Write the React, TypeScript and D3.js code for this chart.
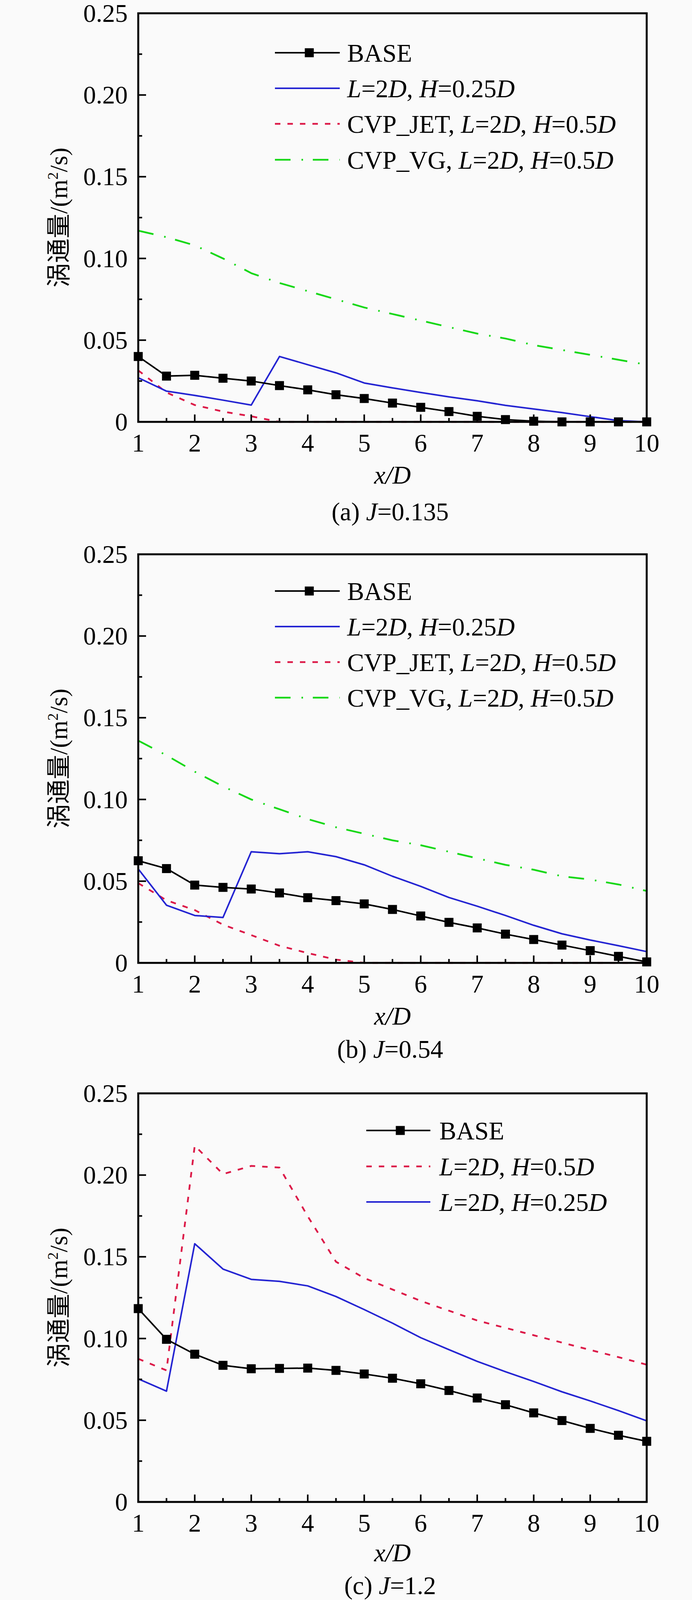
import React from "react";
import * as d3 from "d3";

// ---------- data ----------
const xPositions = [1, 1.5, 2, 2.5, 3, 3.5, 4, 4.5, 5, 5.5, 6, 6.5, 7, 7.5, 8, 8.5, 9, 9.5, 10];
const xTickLabels = ["1", "2", "3", "4", "5", "6", "7", "8", "9", "10"];
const yTickLabels = ["0", "0.05", "0.10", "0.15", "0.20", "0.25"];

// (a) J=0.135
const aBase = [0.040, 0.028, 0.0285, 0.0267, 0.025, 0.0222, 0.0196, 0.0166, 0.0143, 0.0115, 0.0089, 0.0063, 0.0034, 0.0014, 0.0004, 0, 0, 0, 0];
const aL2H025 = [0.027, 0.0188, 0.0162, 0.0133, 0.0103, 0.040, 0.035, 0.030, 0.0238, 0.0208, 0.018, 0.0153, 0.0129, 0.0101, 0.0079, 0.0057, 0.0032, 0.0008, 0];
const aJet = [0.0315, 0.018, 0.0103, 0.0063, 0.0034, 0, 0, 0, 0, 0, 0, 0, 0, 0, 0, 0, 0, 0, 0];
const aVG = [0.117, 0.113, 0.108, 0.100, 0.091, 0.085, 0.080, 0.075, 0.070, 0.066, 0.062, 0.058, 0.054, 0.051, 0.047, 0.044, 0.041, 0.038, 0.035];

// (b) J=0.54
const bBase = [0.0625, 0.0577, 0.0476, 0.0462, 0.0452, 0.0428, 0.0399, 0.0381, 0.0361, 0.0327, 0.0287, 0.0248, 0.0214, 0.0176, 0.0143, 0.0109, 0.0075, 0.004, 0.0006];
const bL2H025 = [0.0575, 0.0353, 0.029, 0.0278, 0.068, 0.0668, 0.068, 0.065, 0.060, 0.053, 0.0468, 0.040, 0.0347, 0.029, 0.023, 0.0178, 0.014, 0.0105, 0.0069];
const bJet = [0.0488, 0.0383, 0.0323, 0.0234, 0.017, 0.0105, 0.006, 0.002, 0, 0, 0, 0, 0, 0, 0, 0, 0, 0, 0];
const bVG = [0.136, 0.127, 0.117, 0.108, 0.100, 0.094, 0.088, 0.083, 0.079, 0.075, 0.072, 0.068, 0.064, 0.060, 0.057, 0.053, 0.051, 0.048, 0.044];

// (c) J=1.2
const cBase = [0.1183, 0.0995, 0.0904, 0.0836, 0.0815, 0.0817, 0.0819, 0.0805, 0.0783, 0.0757, 0.0723, 0.0682, 0.0636, 0.0595, 0.0545, 0.0498, 0.045, 0.0408, 0.0371];
const cL2H05 = [0.0876, 0.0805, 0.218, 0.2006, 0.2056, 0.2046, 0.1748, 0.147, 0.137, 0.130, 0.123, 0.117, 0.111, 0.1065, 0.102, 0.0975, 0.093, 0.0886, 0.084];
const cL2H025 = [0.0753, 0.0678, 0.158, 0.1425, 0.1362, 0.135, 0.1322, 0.1257, 0.1177, 0.1094, 0.1005, 0.0932, 0.086, 0.0797, 0.0737, 0.0674, 0.0618, 0.0559, 0.0496];

// ---------- styles ----------
const FONT = "'Liberation Serif', 'Times New Roman', 'Noto Sans CJK SC', serif";
const W = 1772;
const H = 4099;
const LEFT = 354;
const RIGHT = 1656;
const PH = 1046;

type Seg = { t: string; i?: boolean };
type Style = { color: string; dash?: string; width: number; marker?: boolean };

const STY: Record<string, Style> = {
  base: { color: "#000000", width: 4, marker: true },
  blue: { color: "#2424d2", width: 4 },
  red: { color: "#dc1a48", width: 4.5, dash: "14,18" },
  green: { color: "#18d818", width: 4.5, dash: "40,28,4,25" },
};

const lblL025: Seg[] = [{ t: "L", i: true }, { t: "=2" }, { t: "D", i: true }, { t: ", " }, { t: "H", i: true }, { t: "=0.25" }, { t: "D", i: true }];
const lblL05: Seg[] = [{ t: "L", i: true }, { t: "=2" }, { t: "D", i: true }, { t: ", " }, { t: "H", i: true }, { t: "=0.5" }, { t: "D", i: true }];
const lblJet: Seg[] = [{ t: "CVP_JET, " }, ...lblL05];
const lblVG: Seg[] = [{ t: "CVP_VG, " }, ...lblL05];
const lblBase: Seg[] = [{ t: "BASE" }];

type Series = { values: number[]; style: Style; label: Seg[] };
type Panel = {
  top: number;
  series: Series[];
  drawOrder: number[];
  legend: { x1: number; x2: number; tx: number; rows: number[] };
  caption: Seg[];
  xlabOff: number;
  capOff: number;
};

const panels: Panel[] = [
  {
    top: 34,
    series: [
      { values: aBase, style: STY.base, label: lblBase },
      { values: aL2H025, style: STY.blue, label: lblL025 },
      { values: aJet, style: STY.red, label: lblJet },
      { values: aVG, style: STY.green, label: lblVG },
    ],
    drawOrder: [3, 2, 1, 0],
    legend: { x1: 704, x2: 870, tx: 889, rows: [135, 226, 317, 409] },
    caption: [{ t: "(a) " }, { t: "J", i: true }, { t: "=0.135" }],
    xlabOff: 158,
    capOff: 252,
  },
  {
    top: 1419,
    series: [
      { values: bBase, style: STY.base, label: lblBase },
      { values: bL2H025, style: STY.blue, label: lblL025 },
      { values: bJet, style: STY.red, label: lblJet },
      { values: bVG, style: STY.green, label: lblVG },
    ],
    drawOrder: [3, 2, 1, 0],
    legend: { x1: 704, x2: 870, tx: 889, rows: [1513, 1604, 1695, 1786] },
    caption: [{ t: "(b) " }, { t: "J", i: true }, { t: "=0.54" }],
    xlabOff: 158,
    capOff: 243,
  },
  {
    top: 2799,
    series: [
      { values: cBase, style: STY.base, label: lblBase },
      { values: cL2H05, style: STY.red, label: lblL05 },
      { values: cL2H025, style: STY.blue, label: lblL025 },
    ],
    drawOrder: [1, 2, 0],
    legend: { x1: 938, x2: 1102, tx: 1125, rows: [2894, 2986, 3077] },
    caption: [{ t: "(c) " }, { t: "J", i: true }, { t: "=1.2" }],
    xlabOff: 152,
    capOff: 236,
  },
];

function Rich({ segs }: { segs: Seg[] }) {
  return (
    <>
      {segs.map((s, k) => (
        <tspan key={k} fontStyle={s.i ? "italic" : "normal"}>
          {s.t}
        </tspan>
      ))}
    </>
  );
}

function PanelView({ p }: { p: Panel }) {
  const bottom = p.top + PH;
  const x = d3.scaleLinear().domain([1, 10]).range([LEFT, RIGHT]);
  const y = d3.scaleLinear().domain([0, 0.25]).range([bottom, p.top]);
  const line = d3
    .line<number>()
    .x((_, i) => x(xPositions[i]))
    .y((v) => y(v));

  const majorX = d3.range(1, 11, 1);
  const minorX = d3.range(1.5, 10, 1);
  const majorY = yTickLabels.map((t) => +t);
  const minorY = d3.range(0.025, 0.25, 0.05);
  const ms = 23;

  return (
    <g>
      {/* series lines */}
      {p.drawOrder.map((si) => {
        const s = p.series[si];
        return (
          <path
            key={"l" + si}
            d={line(s.values) || ""}
            fill="none"
            stroke={s.style.color}
            strokeWidth={s.style.width}
            strokeDasharray={s.style.dash}
            strokeLinejoin="round"
          />
        );
      })}

      {/* frame */}
      <rect x={LEFT} y={p.top} width={RIGHT - LEFT} height={PH} fill="none" stroke="#000" strokeWidth={5} />

      {/* ticks */}
      {majorX.map((v) => (
        <line key={"mx" + v} x1={x(v)} x2={x(v)} y1={bottom} y2={bottom - 19} stroke="#000" strokeWidth={4} />
      ))}
      {minorX.map((v) => (
        <line key={"nx" + v} x1={x(v)} x2={x(v)} y1={bottom} y2={bottom - 10} stroke="#000" strokeWidth={4} />
      ))}
      {majorY.map((v) => (
        <line key={"my" + v} x1={LEFT} x2={LEFT + 20} y1={y(v)} y2={y(v)} stroke="#000" strokeWidth={4} />
      ))}
      {minorY.map((v) => (
        <line key={"ny" + v} x1={LEFT} x2={LEFT + 10} y1={y(v)} y2={y(v)} stroke="#000" strokeWidth={4} />
      ))}

      {/* markers */}
      {p.series
        .filter((s) => s.style.marker)
        .map((s, si) =>
          s.values.map((v, i) => (
            <rect
              key={"m" + si + "_" + i}
              x={x(xPositions[i]) - ms / 2}
              y={y(v) - ms / 2}
              width={ms}
              height={ms}
              fill="#000"
            />
          ))
        )}

      {/* tick labels */}
      {xTickLabels.map((t) => (
        <text key={"xt" + t} x={x(+t)} y={bottom + 76} fontSize={65} textAnchor="middle" fontFamily={FONT}>
          {t}
        </text>
      ))}
      {yTickLabels.map((t) => (
        <text key={"yt" + t} x={327} y={y(+t) + 22} fontSize={65} textAnchor="end" fontFamily={FONT}>
          {t}
        </text>
      ))}

      {/* axis titles */}
      <text x={(LEFT + RIGHT) / 2} y={bottom + p.xlabOff} fontSize={65} textAnchor="middle" fontFamily={FONT} fontStyle="italic">
        x/D
      </text>
      <text
        transform={`translate(${172},${(p.top + bottom) / 2}) rotate(-90)`}
        fontSize={63}
        textAnchor="middle"
        fontFamily={FONT}
      >
        <tspan>涡通量/(m</tspan>
        <tspan fontSize={38} dy={-24}>2</tspan>
        <tspan dy={24}>/s)</tspan>
      </text>

      {/* caption */}
      <text x={(LEFT + RIGHT) / 2 - 6} y={bottom + p.capOff} fontSize={65} textAnchor="middle" fontFamily={FONT}>
        <Rich segs={p.caption} />
      </text>

      {/* legend */}
      {p.series.map((s, i) => {
        const ly = p.legend.rows[i];
        return (
          <g key={"lg" + i}>
            <line
              x1={p.legend.x1}
              x2={p.legend.x2}
              y1={ly}
              y2={ly}
              stroke={s.style.color}
              strokeWidth={s.style.width}
              strokeDasharray={s.style.dash}
            />
            {s.style.marker && (
              <rect x={(p.legend.x1 + p.legend.x2) / 2 + 5 - ms / 2} y={ly - ms / 2} width={ms} height={ms} fill="#000" />
            )}
            <text x={p.legend.tx} y={ly + 23} fontSize={65} fontFamily={FONT}>
              <Rich segs={s.label} />
            </text>
          </g>
        );
      })}
    </g>
  );
}

export default function App() {
  return (
    <svg
      width={W}
      height={H}
      viewBox={`0 0 ${W} ${H}`}
      style={{ position: "absolute", left: 0, top: 0, background: "#fafafa" }}
    >
      <rect x={0} y={0} width={W} height={H} fill="#fafafa" />
      {panels.map((p, i) => (
        <PanelView key={i} p={p} />
      ))}
    </svg>
  );
}
